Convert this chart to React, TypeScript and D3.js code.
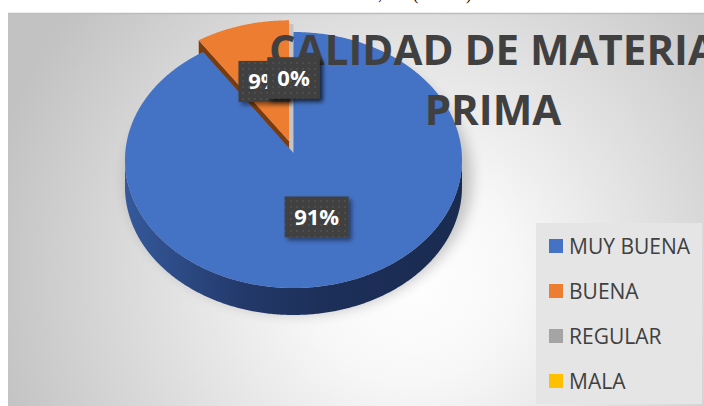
import React from "react";
import * as d3 from "d3";

const categories = ["MUY BUENA", "BUENA", "REGULAR", "MALA"];
const values = [91, 9, 0, 0];
const colors = ["#4472c4", "#ed7d31", "#a5a5a5", "#ffc000"];
const sideColors = ["#2a4a86", "#7a3c0e", "#6e6e6e", "#a67c00"];
const titleLines = ["CALIDAD DE MATERIA", "PRIMA"];

const W = 704;
const H = 406;
const cx = 293.5;
const cyE = 160;
const apexY = 153;
const rx = 168.5;
const ry = 128;
const depth = 27;
const explodeIdx = 1;
const explodeDist = 16;

function rim(theta: number, ox: number, oy: number): [number, number] {
  return [cx + ox + rx * Math.sin(theta), cyE + oy - ry * Math.cos(theta)];
}
function arcPts(a0: number, a1: number, ox: number, oy: number, dy = 0): [number, number][] {
  const n = Math.max(2, Math.ceil(Math.abs(a1 - a0) / 0.01));
  const pts: [number, number][] = [];
  for (let i = 0; i <= n; i++) {
    const t = a0 + ((a1 - a0) * i) / n;
    const p = rim(t, ox, oy);
    pts.push([p[0], p[1] + dy]);
  }
  return pts;
}
const line = d3.line<[number, number]>();

export default function App() {
  const total = d3.sum(values);
  const arcs = d3
    .pie<number>()
    .sort(null)
    .startAngle(0)
    .endAngle(2 * Math.PI)(values);

  const slices = arcs.map((a, i) => {
    const mid = (a.startAngle + a.endAngle) / 2;
    const e = i === explodeIdx ? explodeDist : 0;
    const ox = e * Math.sin(mid);
    const oy = -e * Math.cos(mid) * (ry / rx);
    return { a, i, mid, ox, oy };
  });

  // draw back (cos large) first
  const order = [...slices].sort((p, q) => Math.cos(q.mid) - Math.cos(p.mid));

  const pieParts: React.ReactNode[] = [];
  order.forEach((s) => {
    const { a, i, ox, oy } = s;
    if (a.endAngle - a.startAngle <= 0) return;
    const apex: [number, number] = [cx + ox, apexY + oy];
    if (Math.sin(a.startAngle) < 0) {
      const r0 = rim(a.startAngle, ox, oy);
      const d = line([apex, r0, [r0[0], r0[1] + depth], [apex[0], apex[1] + depth]]) + "Z";
      pieParts.push(<path key={`sw${i}`} d={d} fill={sideColors[i]} />);
    }
    if (Math.sin(a.endAngle) > 0) {
      const r1 = rim(a.endAngle, ox, oy);
      const d = line([apex, r1, [r1[0], r1[1] + depth], [apex[0], apex[1] + depth]]) + "Z";
      pieParts.push(<path key={`ew${i}`} d={d} fill={sideColors[i]} />);
    }
    const s0 = Math.max(a.startAngle, Math.PI / 2);
    const s1 = Math.min(a.endAngle, (3 * Math.PI) / 2);
    if (s1 > s0) {
      const top = arcPts(s0, s1, ox, oy);
      const bot = arcPts(s1, s0, ox, oy, depth);
      const d = line([...top, ...bot]) + "Z";
      pieParts.push(
        <path key={`ow${i}`} d={d} fill={i === 0 ? "url(#blueSide)" : sideColors[i]} />
      );
    }
    const d = line([apex, ...arcPts(a.startAngle, a.endAngle, ox, oy)]) + "Z";
    pieParts.push(<path key={`tf${i}`} d={d} fill={colors[i]} />);
  });

  const labels = slices.map((s) => {
    const { a, i, mid } = s;
    const apex: [number, number] = [cx, apexY];
    const r = rim(mid, 0, 0);
    const f = 0.555 + 0.065 * Math.cos(mid);
    const x = apex[0] + f * (r[0] - apex[0]);
    const y = apex[1] + f * (r[1] - apex[1]);
    const txt = `${Math.round((a.value / total) * 100)}%`;
    const bw = 12 * txt.length + 28;
    const bh = 41;
    return (
      <g key={`lb${i}`}>
        <rect x={x - bw / 2} y={y - bh / 2} width={bw} height={bh} fill="#404040" filter="url(#lshadow)" />
        <rect x={x - bw / 2} y={y - bh / 2} width={bw} height={bh} fill="url(#dots)" />
        <text
          x={x}
          y={y + 8}
          textAnchor="middle"
          fontFamily="'Open Sans', sans-serif"
          fontWeight={700}
          fontSize={22}
          fill="#ffffff"
        >
          {txt}
        </text>
      </g>
    );
  });

  const legendY = d3.scalePoint<string>().domain(categories).range([246, 381]);

  return (
    <svg
      width={W}
      height={H}
      style={{ position: "absolute", left: 0, top: 0 }}
      xmlns="http://www.w3.org/2000/svg"
    >
      <defs>
        <radialGradient id="bg" gradientUnits="userSpaceOnUse" cx={410} cy={275} r={430}>
          <stop offset="0" stopColor="#ffffff" />
          <stop offset="0.25" stopColor="#f7f7f7" />
          <stop offset="1" stopColor="#c2c2c2" />
        </radialGradient>
        <linearGradient id="blueSide" gradientUnits="userSpaceOnUse" x1={cx - rx} x2={cx + rx} y1={0} y2={0}>
          <stop offset="0" stopColor="#35599b" />
          <stop offset="0.35" stopColor="#23396a" />
          <stop offset="0.6" stopColor="#1c2f58" />
          <stop offset="1" stopColor="#1a2b50" />
        </linearGradient>
        <pattern id="dots" width="6" height="6" patternUnits="userSpaceOnUse">
          <circle cx="3" cy="3" r="0.8" fill="#5c5c5c" />
        </pattern>
        <filter id="lshadow" x="-30%" y="-30%" width="160%" height="160%">
          <feDropShadow dx="3" dy="3" stdDeviation="2" floodColor="#000" floodOpacity="0.45" />
        </filter>
        <filter id="pshadow" x="-20%" y="-20%" width="140%" height="140%">
          <feGaussianBlur stdDeviation="7" />
        </filter>
      </defs>

      <text x={378} y={0} fontFamily="serif" fontSize={16} fill="#000">,</text>
      <text x={413} y={0} fontFamily="serif" fontSize={16} fill="#000">(</text>
      <text x={466} y={0} fontFamily="serif" fontSize={16} fill="#000">)</text>

      <rect x={8} y={13} width={W - 8} height={H - 13} fill="url(#bg)" />
      <line x1={8} x2={W} y1={13.5} y2={13.5} stroke="#bdbdbd" strokeWidth={1.5} />

      <ellipse
        cx={cx + 6}
        cy={cyE + depth / 2 + 6}
        rx={rx + 4}
        ry={ry + 6}
        fill="#000"
        opacity={0.22}
        filter="url(#pshadow)"
      />

      <rect x={cx - 6} y={24} width={6} height={apexY - 24} fill="#c4c4c4" />

      {pieParts}

      <g fontFamily="'Open Sans', sans-serif" fontWeight={700} fontSize={42} fill="#404040" textAnchor="middle">
        {titleLines.map((t, k) => (
          <text key={t} x={493} y={65 + k * 60}>
            {t}
          </text>
        ))}
      </g>

      {labels}

      <rect x={536} y={223} width={166} height={181} fill="#e5e5e5" />
      {categories.map((c, i) => (
        <g key={c}>
          <rect x={549} y={legendY(c)! - 7} width={14} height={14} fill={colors[i]} />
          <text
            x={569}
            y={legendY(c)! + 7.5}
            fontFamily="'Open Sans', sans-serif"
            fontSize={21}
            fill="#404040"
          >
            {c}
          </text>
        </g>
      ))}
    </svg>
  );
}
